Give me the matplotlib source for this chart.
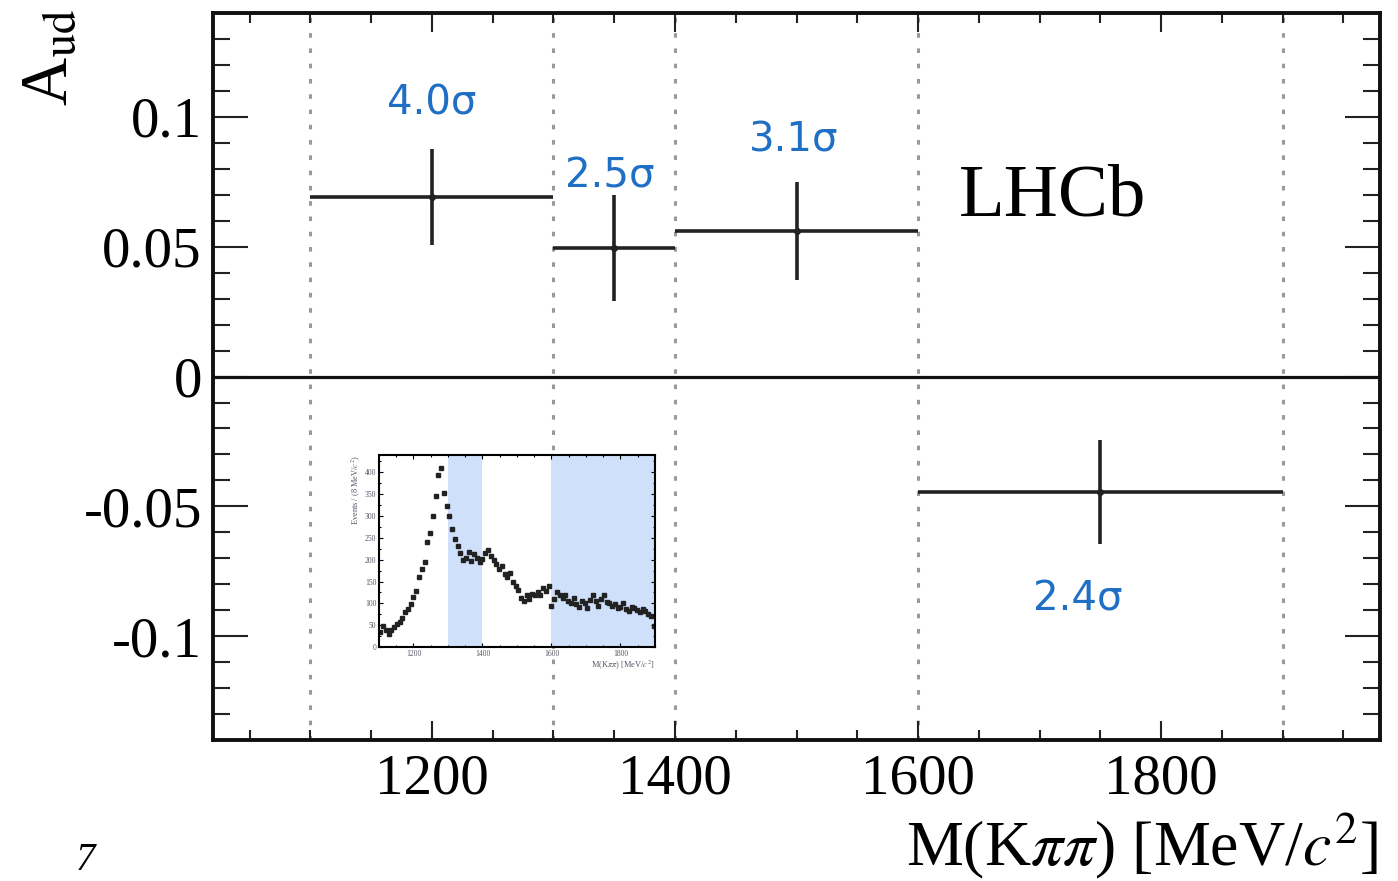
import numpy as np
import matplotlib.pyplot as plt
from matplotlib.ticker import MultipleLocator

plt.rcParams['mathtext.fontset'] = 'stix'
plt.rcParams['font.family'] = ['Liberation Serif', 'DejaVu Serif']

# Asymmetry per mass bin
bin_lo = [1100, 1300, 1400, 1600]
bin_hi = [1300, 1400, 1600, 1900]
bin_mid = [1200, 1350, 1500, 1750]
a_ud = [0.069, 0.0495, 0.056, -0.0445]
a_err = [0.0185, 0.0205, 0.019, 0.020]
signif = ['4.0σ', '2.5σ', '3.1σ', '2.4σ']
signif_x = [1200, 1346, 1498, 1731]
signif_y = [0.105, 0.077, 0.091, -0.086]
edges = [1100, 1300, 1400, 1600, 1900]

# Inset mass spectrum, 8 MeV bins from 1100 to 1900
spec_counts = [35, 48, 40, 30, 38, 45, 52, 58, 66, 80,
               88, 98, 115, 128, 160, 178, 195, 240, 262, 300,
               345, 395, 410, 352, 322, 300, 270, 248, 232, 215,
               200, 205, 218, 198, 212, 205, 195, 202, 215, 222,
               208, 200, 190, 178, 185, 168, 160, 170, 150, 140,
               130, 112, 105, 118, 110, 122, 118, 125, 120, 135,
               128, 140, 95, 110, 125, 118, 112, 120, 105, 100,
               112, 98, 92, 105, 100, 90, 108, 118, 105, 95,
               110, 120, 102, 100, 95, 98, 90, 92, 100, 88,
               82, 92, 90, 85, 80, 88, 82, 75, 70, 48]
spec_mass = np.arange(1104, 1900, 8)
shade_regions = [(1300, 1400), (1600, 1900)]

fig = plt.figure(figsize=(13.98, 8.81), dpi=100)
ax = fig.add_axes([0.1524, 0.16, 0.8347, 0.8252])

for e in edges:
    ax.axvline(e, color='#999999', lw=2.2, linestyle=(0, (1.5, 3.5)), zorder=1)
ax.axhline(0, color='#111111', lw=2.3, zorder=2)

xerr = [np.array(bin_mid) - np.array(bin_lo), np.array(bin_hi) - np.array(bin_mid)]
ax.errorbar(bin_mid, a_ud, xerr=xerr, yerr=a_err, fmt='o', ms=4, color='#222222',
            elinewidth=2.6, capsize=0, zorder=3)

for x, y, s in zip(signif_x, signif_y, signif):
    ax.text(x, y, s, color='#1f6fc4', fontsize=29, family='DejaVu Sans',
            ha='center', va='center')

ax.text(1711, 0.069, 'LHCb', fontsize=54, ha='center', va='center')

ax.set_xlim(1020, 1980)
ax.set_ylim(-0.14, 0.14)
ax.set_yticks([-0.1, -0.05, 0, 0.05, 0.1])
ax.set_yticklabels(['-0.1', '-0.05', '0', '0.05', '0.1'])
ax.set_xticks([1200, 1400, 1600, 1800])
ax.xaxis.set_minor_locator(MultipleLocator(50))
ax.yaxis.set_minor_locator(MultipleLocator(0.01))
ax.tick_params(axis='both', which='both', direction='in', top=True, right=True,
               width=1.5, color='#222222', labelsize=41)
ax.tick_params(axis='x', which='major', length=14, pad=10)
ax.tick_params(axis='x', which='minor', length=7)
ax.tick_params(axis='y', which='major', length=25, pad=8)
ax.tick_params(axis='y', which='minor', length=12)
for sp in ax.spines.values():
    sp.set_linewidth(2.8)
    sp.set_color('#111111')

fig.text(0.986, 0.0, r'M(K$\pi\pi$) [MeV/$c^{2}$]', fontsize=46,
         ha='right', va='bottom')
fig.text(0.036, 0.99, r'A$_{\rm ud}$', fontsize=48, rotation=90,
         ha='center', va='top')
fig.text(0.061, 0.002, '7', fontsize=28, style='italic', ha='center', va='bottom')

# Inset
ins = fig.add_axes([0.2711, 0.2656, 0.1974, 0.218])
for lo, hi in shade_regions:
    ins.axvspan(lo, hi, color='#cfe0fb', lw=0, zorder=0)
ins.plot(spec_mass, spec_counts, 's', ms=2.2, color='#222222', zorder=2)
ins.set_xlim(1100, 1900)
ins.set_ylim(0, 440)
ins.set_xticks([1200, 1400, 1600, 1800])
ins.set_yticks(range(0, 401, 50))
ins.xaxis.set_minor_locator(MultipleLocator(50))
ins.yaxis.set_minor_locator(MultipleLocator(25))
ins.tick_params(axis='both', which='both', direction='in', top=True, right=True,
                labelsize=5.5, labelcolor='#555566', width=0.8)
ins.tick_params(which='major', length=3, pad=2)
ins.tick_params(which='minor', length=1.5)
for sp in ins.spines.values():
    sp.set_linewidth(1.5)
ins.set_ylabel(r'Events / (8 MeV/$c^{2}$)', fontsize=6, color='#555566', labelpad=1,
               loc='top')
ins.set_xlabel(r'M(K$\pi\pi$) [MeV/$c^{2}$]', fontsize=6, color='#555566', labelpad=1,
               loc='right')

fig.savefig('out.png', dpi=100)
